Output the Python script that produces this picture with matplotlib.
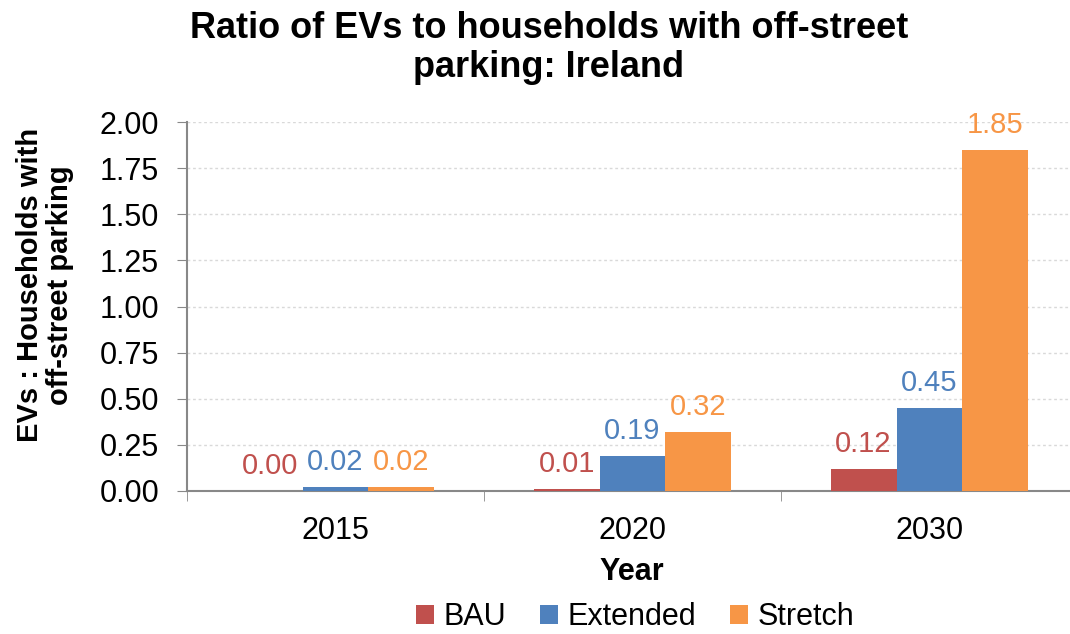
import matplotlib
matplotlib.use("Agg")
import matplotlib.pyplot as plt
import numpy as np

plt.rcParams['font.family'] = ['Liberation Sans', 'DejaVu Sans']

years = ["2015", "2020", "2030"]
series = ["BAU", "Extended", "Stretch"]
bau = [0.002, 0.01, 0.12]
extended = [0.02, 0.19, 0.45]
stretch = [0.02, 0.32, 1.85]
labels_bau = ["0.00", "0.01", "0.12"]
labels_ext = ["0.02", "0.19", "0.45"]
labels_str = ["0.02", "0.32", "1.85"]
colors = ["#C0504D", "#4F81BD", "#F79646"]

W, H = 1070, 634
fig = plt.figure(figsize=(W / 100, H / 100), dpi=100)
left, right, top, bottom = 187, 1078, 122, 491
ax = fig.add_axes([left / W, 1 - bottom / H, (right - left) / W, (bottom - top) / H])

x = np.arange(len(years))
bw = 0.222
vals = [bau, extended, stretch]
labs = [labels_bau, labels_ext, labels_str]
for i, (v, l, c, name) in enumerate(zip(vals, labs, colors, series)):
    pos = x + (i - 1) * bw
    ax.bar(pos, v, width=bw, color=c, label=name, zorder=3, edgecolor='none')
    for p, val, t in zip(pos, v, l):
        ax.annotate(t, (p, val), xytext=(0, 8), textcoords='offset points',
                    ha='center', va='bottom', color=c, fontsize=21)

ax.set_xlim(-0.5, 2.5)
ax.set_ylim(0, 2.0)
ax.set_yticks(np.arange(0, 2.01, 0.25))
ax.set_yticklabels([f"{t:.2f}" for t in np.arange(0, 2.01, 0.25)], fontsize=22)
ax.set_xticks(x)
ax.set_xticklabels(years, fontsize=22)
ax.set_xticks([-0.5, 0.5, 1.5, 2.5], minor=True)
ax.tick_params(axis='x', which='major', length=0, pad=18)
ax.tick_params(axis='x', which='minor', length=7, color='#888888', direction='out')
ax.tick_params(axis='y', length=7, color='#888888', direction='out', pad=13)

ax.grid(axis='y', color='#D9D9D9', linestyle=(0, (2, 2)), linewidth=1, zorder=0)
for s in ['top', 'right']:
    ax.spines[s].set_visible(False)
for s in ['left', 'bottom']:
    ax.spines[s].set_color('#888888')
    ax.spines[s].set_linewidth(1.5)

fig.text(549 / W, 1 - 48 / H, "Ratio of EVs to households with off-street\nparking: Ireland",
         ha='center', va='center', fontsize=26, fontweight='bold', linespacing=1.15)
fig.text(45 / W, 1 - 285 / H, "EVs : Households with\noff-street parking", rotation=90,
         ha='center', va='center', fontsize=21, fontweight='bold', linespacing=1.05)
fig.text(632 / W, 1 - 572 / H, "Year", ha='center', va='center', fontsize=22, fontweight='bold')

handles, lbls = ax.get_legend_handles_labels()
fig.legend(handles, lbls, loc='center', bbox_to_anchor=(635 / W, 1 - 617 / H), ncol=3,
           frameon=False, fontsize=22, handlelength=0.6, handleheight=0.6,
           handletextpad=0.3, columnspacing=1.1, borderaxespad=0, borderpad=0)

fig.savefig("out.png", dpi=100)
